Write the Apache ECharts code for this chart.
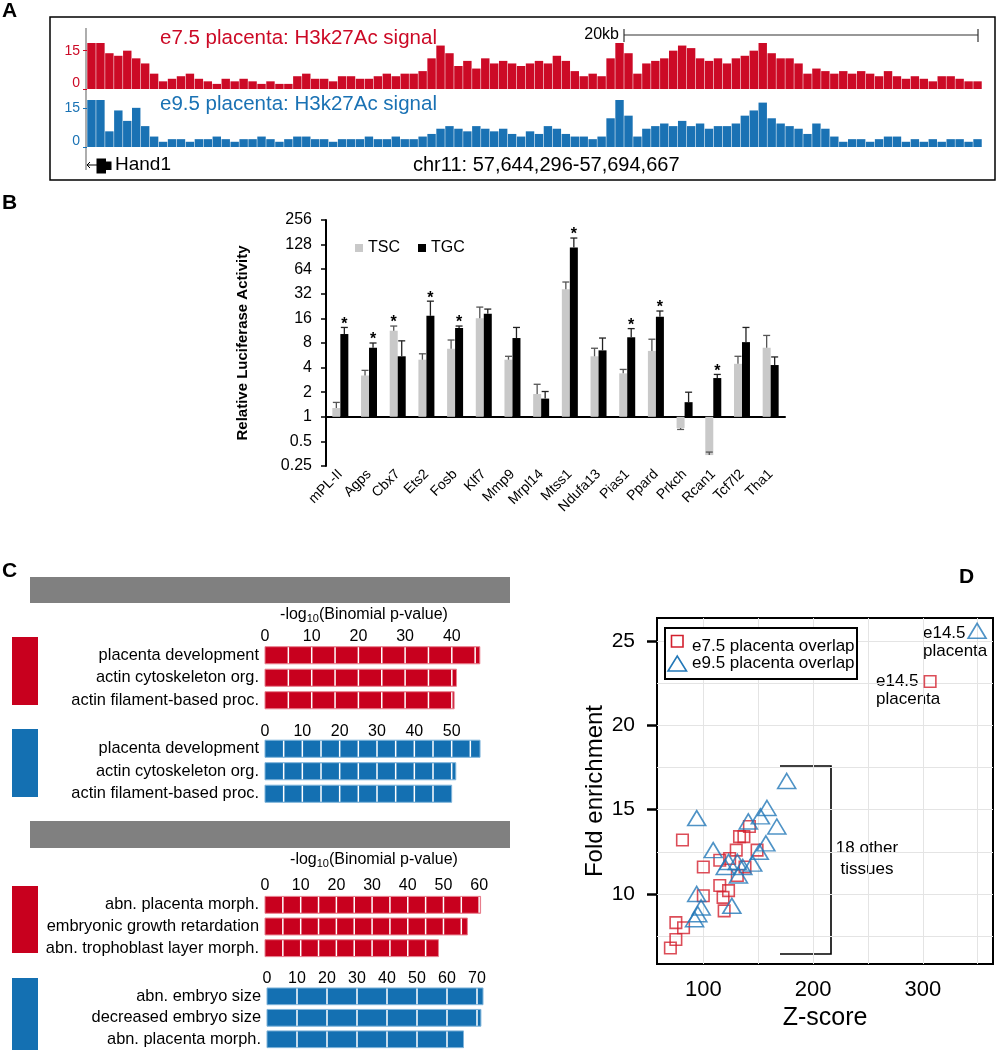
<!DOCTYPE html>
<html><head><meta charset="utf-8">
<script src="https://cdn.jsdelivr.net/npm/echarts@6/dist/echarts.min.js"></script>
<style>html,body{margin:0;padding:0;background:#fff;}#c{width:997px;height:1050px;}</style>
</head><body><div id="c"></div>
<script>
// ---------- Panel A: H3K27Ac signal tracks (binned) ----------
const e75Signal = [18,18,14,13,15,12,10,6,3,4, 5,6,4,3,2,4,3,4,3,2, 3,2,2,5,6,4,4,3,5,5, 4,4,5,6,5,6,6,7,12,17,
  14,9,11,8,12,10,11,10,9,10, 11,10,13,11,7,5,6,5,12,18, 14,6,10,11,12,15,17,16,12,11, 12,10,12,13,15,18,14,12,12,10,
  6,8,7,6,7,6,7,6,5,7, 5,4,5,4,3,5,5,4,3,3];
const e95Signal = [18,18,6,14,10,15,8,4,2,3, 3,2,3,3,4,3,2,3,3,4, 3,2,3,4,4,3,3,2,3,3, 3,4,3,3,4,3,3,4,5,7,
  8,7,6,8,7,6,7,5,4,6, 5,8,7,5,4,4,3,4,11,18, 12,4,7,8,9,8,10,8,9,7, 8,8,9,12,14,17,11,9,8,7,
  5,9,7,4,2,3,3,2,3,4, 4,2,3,2,3,2,3,3,2,3];
const trackTicks = [0, 15];
const trackMax = 18;

// ---------- Panel B: luciferase ----------
const genes = ['mPL-II','Agps','Cbx7','Ets2','Fosb','Klf7','Mmp9','Mrpl14','Mtss1','Ndufa13','Pias1','Ppard','Prkch','Rcan1','Tcf7l2','Tha1'];
const tscValues = [1.28, 3.2, 11.3, 5.0, 6.8, 16.1, 5.0, 1.9, 36.5, 5.5, 3.4, 6.4, 0.73, 0.34, 4.45, 7.0];
const tscErrTop = [1.5, 3.7, 12.9, 5.9, 8.7, 22, 5.5, 2.5, 44.6, 6.9, 3.8, 8.9, 0.70, 0.37, 5.5, 9.9];
const tgcValues = [10.3, 7.0, 5.5, 17.2, 12.2, 18.2, 9.2, 1.67, 118, 6.5, 9.4, 16.8, 1.51, 2.98, 8.2, 4.3];
const tgcErrTop = [12.4, 8.0, 8.5, 26, 12.9, 20.8, 12.4, 2.04, 154, 9.2, 12, 19.7, 2.0, 3.3, 12.4, 5.4];
const tscSig = [0,0,1,0,0,0,0,0,0,0,0,0,0,0,0,0];
const tgcSig = [1,1,0,1,1,0,0,0,1,0,1,1,0,1,0,0];
const luciferaseTicks = [0.25, 0.5, 1, 2, 4, 8, 16, 32, 64, 128, 256];

// ---------- Panel C: GREAT enrichment ----------
const goTerms = ['placenta development','actin cytoskeleton org.','actin filament-based proc.'];
const goE75 = [46, 41, 40.5];
const goE95 = [57.6, 51.1, 50.0];
const mpTermsE75 = ['abn. placenta morph.','embryonic growth retardation','abn. trophoblast layer morph.'];
const mpE75 = [60.4, 56.7, 48.6];
const mpTermsE95 = ['abn. embryo size','decreased embryo size','abn. placenta morph.'];
const mpE95 = [72, 71.3, 65.5];
const goE75Ticks = [0,10,20,30,40];
const goE95Ticks = [0,10,20,30,40,50];
const mpE75Ticks = [0,10,20,30,40,50,60];
const mpE95Ticks = [0,10,20,30,40,50,60,70];

// ---------- Panel D: tissue overlap ----------
const e75Z    = [81,100,133,137,142,130,149,115,124,138,131,115,123,100,118,119,75,82,75,70];
const e75Fold = [13.2,11.6,13.4,13.4,14.0,12.6,12.6,12.0,12.1,11.6,11.1,10.5,10.2,9.9,9.8,9.0,8.3,8.0,7.3,6.8];
const e95Z    = [176,94,158,152,141,167,157,151,109,145,123,131,120,136,132,94,126,98,95,92];
const e95Fold = [16.7,14.5,15.1,14.6,14.3,14.0,13.0,12.5,12.6,11.8,11.9,11.9,11.6,11.6,11.1,10.0,9.3,9.2,8.8,8.5];
const e75Placenta = [306.7, 22.6];
const e95Placenta = [349.5, 25.6];
const zTicks = [100, 200, 300];
const zMinorGrid = [150, 250, 350];
const foldTicks = [10, 15, 20, 25];
const foldMinorGrid = [7.5, 12.5, 17.5, 22.5];

// ---------- styles ----------
const F = "'Liberation Sans', Arial, Helvetica, sans-serif";
const RED_A = '#cc0a26', BLUE_A = '#1a72b4';
const RED_C = '#c8001e', BLUE_C = '#1470b2';
const RED_D = '#d3202e', BLUE_D = '#2378b8';

const chart = echarts.init(document.getElementById('c'), null, {width: 997, height: 1050});

function trackYAxis(grid, color) {
  return {gridIndex: grid, type: 'value', min: 0, max: trackMax,
    axisLine: {show: false}, splitLine: {show: false},
    axisTick: {show: true, customValues: trackTicks, length: 4, lineStyle: {color: color, width: 1}},
    axisLabel: {customValues: trackTicks, margin: 7, fontFamily: F,
      formatter: v => v === 0 ? '{z|0}' : '{f|' + v + '}',
      rich: {z: {color: color, fontSize: 14, fontFamily: F, padding: [0,0,12,0]}, f: {color: color, fontSize: 14, fontFamily: F}}}};
}
function catHidden(grid, n) {
  return {gridIndex: grid, type: 'category', data: Array.from({length: n}, (_, i) => i), show: false};
}

function segRender(fill, stroke, seg, ratio) {
  return function (params, api) {
    const v = api.value(0), c = api.value(1);
    const p0 = api.coord([0, c]), p1 = api.coord([v, c]);
    const h = api.size([0, 1])[1] * ratio;
    const ch = [{type: 'rect', shape: {x: p0[0], y: p0[1] - h / 2, width: p1[0] - p0[0], height: h},
      style: {fill: fill, stroke: stroke, lineWidth: 1}}];
    for (let k = seg; k < v - 0.3; k += seg) {
      const px = api.coord([k, c])[0];
      ch.push({type: 'line', shape: {x1: px, y1: p0[1] - h / 2 + 0.5, x2: px, y2: p0[1] + h / 2 - 0.5}, style: {stroke: '#fff', lineWidth: 1.5}});
    }
    return {type: 'group', children: ch};
  };
}
function errRender(sign, color) {
  return function (params, api) {
    const c = api.value(0), v = api.value(1), e = api.value(2), sig = api.value(3);
    const b = api.coord([c, v]), t = api.coord([c, e]);
    const x = b[0] + sign * 4;
    const ch = [
      {type: 'line', shape: {x1: x, y1: b[1], x2: x, y2: t[1]}, style: {stroke: color, lineWidth: 1.3}},
      {type: 'line', shape: {x1: x - 3.5, y1: t[1], x2: x + 3.5, y2: t[1]}, style: {stroke: color, lineWidth: 1.3}}
    ];
    if (sig) ch.push({type: 'text', x: x, y: t[1] - 3, style: {text: '*', fontSize: 16, fontWeight: 'bold', fontFamily: F, align: 'center', verticalAlign: 'middle', fill: '#000'}});
    return {type: 'group', children: ch};
  };
}
function cYAxis(grid, terms) {
  return {gridIndex: grid, type: 'category', data: terms, inverse: true,
    axisLine: {show: false}, axisTick: {show: false},
    axisLabel: {fontSize: 16.4, color: '#000', margin: 6, fontFamily: F}};
}
function cXAxis(grid, max, ticks, margin) {
  return {gridIndex: grid, type: 'value', position: 'top', min: 0, max: max,
    axisLine: {show: false}, axisTick: {show: false}, splitLine: {show: false},
    axisLabel: {customValues: ticks, fontSize: 16, color: '#000', margin: margin, fontFamily: F}};
}
function logTitle(x, y) {
  return {type: 'text', x: x, y: y, style: {text: '-log{s|10}(Binomial p-value)', fontSize: 16, fontFamily: F, fill: '#000',
    align: 'center', verticalAlign: 'middle', rich: {s: {fontSize: 11, fontFamily: F, padding: [8, 0, 0, 0]}}}};
}
function txt(x, y, s, size, color, align, extra) {
  return {type: 'text', x: x, y: y, style: Object.assign({text: s, fontSize: size, fontFamily: F, fill: color || '#000',
    align: align || 'left', verticalAlign: 'middle'}, extra || {})};
}

const log2 = Math.log2;
const option = {
  animation: false,
  backgroundColor: '#fff',
  textStyle: {fontFamily: F},
  grid: [
    {left: 87, top: 43, width: 895, height: 46},
    {left: 87, top: 100, width: 895, height: 47},
    {left: 326, top: 220, width: 459, height: 246},
    {left: 265, top: 644, width: 233.5, height: 67.5},
    {left: 265, top: 737.5, width: 224, height: 67.5},
    {left: 265, top: 894, width: 232, height: 65},
    {left: 267, top: 985.6, width: 225, height: 66.6},
    {left: 657, top: 618, width: 336, height: 346, show: true, borderColor: '#000', borderWidth: 2, backgroundColor: 'rgba(0,0,0,0)'}
  ],
  legend: [{
    data: ['TSC', 'TGC'], left: 350, top: 235, icon: 'rect', itemWidth: 8, itemHeight: 8, itemGap: 18,
    textStyle: {fontSize: 16, color: '#000', fontFamily: F}, selectedMode: false
  }],
  xAxis: [
    catHidden(0, e75Signal.length),
    catHidden(1, e95Signal.length),
    {gridIndex: 2, type: 'category', data: genes, position: 'bottom',
      axisLine: {onZero: true, lineStyle: {color: '#000', width: 2}},
      axisTick: {length: 4, lineStyle: {color: '#000', width: 1.5}}, axisLabel: {show: false}},
    {gridIndex: 2, type: 'category', data: genes, position: 'bottom',
      axisLine: {show: false, onZero: false}, axisTick: {show: false},
      axisLabel: {rotate: 45, fontSize: 14, margin: 6, interval: 0, color: '#000', fontFamily: F}},
    cXAxis(3, 50, goE75Ticks, -1),
    cXAxis(4, 60, goE95Ticks, -2),
    cXAxis(5, 65, mpE75Ticks, 0),
    cXAxis(6, 75, mpE95Ticks, -1),
    {gridIndex: 7, type: 'value', min: 57.8, max: 364,
      axisLine: {show: false}, axisTick: {show: false}, splitLine: {show: false},
      axisLabel: {customValues: zTicks, fontSize: 22, margin: 15, color: '#000', fontFamily: F},
      name: 'Z-score', nameLocation: 'middle', nameGap: 42, nameTextStyle: {fontSize: 25, color: '#000', fontFamily: F}}
  ],
  yAxis: [
    trackYAxis(0, RED_A),
    trackYAxis(1, BLUE_A),
    {gridIndex: 2, type: 'value', min: log2(luciferaseTicks[0]), max: log2(luciferaseTicks[luciferaseTicks.length - 1]), interval: 1,
      axisLine: {show: true, lineStyle: {color: '#000', width: 2}},
      axisTick: {show: true, length: 5, lineStyle: {color: '#000', width: 1.5}},
      splitLine: {show: false},
      axisLabel: {formatter: v => String(Math.pow(2, v)), fontSize: 16, color: '#000', margin: 14, fontFamily: F},
      name: 'Relative Luciferase Activity', nameLocation: 'middle', nameGap: 76,
      nameTextStyle: {fontSize: 15, fontWeight: 'bold', color: '#000', fontFamily: F}},
    cYAxis(3, goTerms),
    cYAxis(4, goTerms),
    cYAxis(5, mpTermsE75),
    cYAxis(6, mpTermsE95),
    {gridIndex: 7, type: 'value', min: 5.85, max: 26.36,
      axisLine: {show: false}, splitLine: {show: false},
      axisTick: {show: true, customValues: foldTicks, length: 10, lineStyle: {color: '#000', width: 2.5}},
      axisLabel: {customValues: foldTicks, fontSize: 21, margin: 22, color: '#000', fontFamily: F},
      name: 'Fold enrichment', nameLocation: 'middle', nameGap: 27, nameTextStyle: {fontSize: 24, color: '#000', fontFamily: F}}
  ],
  series: [
    {type: 'bar', xAxisIndex: 0, yAxisIndex: 0, data: e75Signal, barCategoryGap: '6%', itemStyle: {color: RED_A}, silent: true},
    {type: 'bar', xAxisIndex: 1, yAxisIndex: 1, data: e95Signal, barCategoryGap: '6%', itemStyle: {color: BLUE_A}, silent: true},
    {type: 'bar', name: 'TSC', xAxisIndex: 2, yAxisIndex: 2, data: tscValues.map(log2), barWidth: 8, barGap: '0%', itemStyle: {color: '#c9c9c9'}},
    {type: 'bar', name: 'TGC', xAxisIndex: 2, yAxisIndex: 2, data: tgcValues.map(log2), barWidth: 8, barGap: '0%', itemStyle: {color: '#000'}},
    {type: 'custom', xAxisIndex: 2, yAxisIndex: 2, z: 5, renderItem: errRender(-1, '#555'),
      data: genes.map((g, i) => [i, log2(tscValues[i]), log2(tscErrTop[i]), tscSig[i]])},
    {type: 'custom', xAxisIndex: 2, yAxisIndex: 2, z: 5, renderItem: errRender(1, '#222'),
      data: genes.map((g, i) => [i, log2(tgcValues[i]), log2(tgcErrTop[i]), tgcSig[i]])},
    {type: 'custom', xAxisIndex: 4, yAxisIndex: 3, renderItem: segRender(RED_C, '#e8808f', 5, 0.76), data: goE75.map((v, i) => [v, i]), encode: {x: 0, y: 1}},
    {type: 'custom', xAxisIndex: 5, yAxisIndex: 4, renderItem: segRender(BLUE_C, '#7fb4da', 5, 0.76), data: goE95.map((v, i) => [v, i]), encode: {x: 0, y: 1}},
    {type: 'custom', xAxisIndex: 6, yAxisIndex: 5, renderItem: segRender(RED_C, '#e8808f', 5, 0.78), data: mpE75.map((v, i) => [v, i]), encode: {x: 0, y: 1}},
    {type: 'custom', xAxisIndex: 7, yAxisIndex: 6, renderItem: segRender(BLUE_C, '#7fb4da', 10, 0.78), data: mpE95.map((v, i) => [v, i]), encode: {x: 0, y: 1}},
    {type: 'scatter', xAxisIndex: 8, yAxisIndex: 7, data: [], silent: true,
      markLine: {silent: true, z: 1, symbol: ['none', 'none'], label: {show: false}, animation: false,
        lineStyle: {color: '#e4e4e4', width: 1, type: 'solid'},
        data: zTicks.concat(zMinorGrid).map(v => ({xAxis: v})).concat(foldTicks.concat(foldMinorGrid).map(v => ({yAxis: v})))}},
    {type: 'scatter', name: 'e7.5 placenta overlap', xAxisIndex: 8, yAxisIndex: 7, z: 3, symbol: 'rect', symbolSize: 11.5,
      itemStyle: {color: 'rgba(255,255,255,0)', borderColor: RED_D, borderWidth: 1.6},
      data: e75Z.map((z, i) => [z, e75Fold[i]]).concat([e75Placenta])},
    {type: 'scatter', name: 'e9.5 placenta overlap', xAxisIndex: 8, yAxisIndex: 7, z: 4, symbol: 'triangle', symbolSize: [18, 15],
      itemStyle: {color: 'rgba(255,255,255,0)', borderColor: BLUE_D, borderWidth: 1.6},
      data: e95Z.map((z, i) => [z, e95Fold[i]]).concat([e95Placenta])}
  ],
  graphic: [
    // panel letters
    txt(2, 11, 'A', 21, '#000', 'left', {fontWeight: 'bold'}),
    txt(2, 203, 'B', 21, '#000', 'left', {fontWeight: 'bold'}),
    txt(2, 571, 'C', 21, '#000', 'left', {fontWeight: 'bold'}),
    txt(959, 577, 'D', 21, '#000', 'left', {fontWeight: 'bold'}),
    // panel A frame
    {type: 'rect', shape: {x: 50, y: 17, width: 945, height: 163}, style: {fill: 'none', stroke: '#000', lineWidth: 1.5}},
    {type: 'line', shape: {x1: 86, y1: 28, x2: 86, y2: 170}, style: {stroke: '#777', lineWidth: 1.2}},
    txt(160, 38, 'e7.5 placenta: H3k27Ac signal', 20.5, RED_A),
    txt(160, 104, 'e9.5 placenta: H3k27Ac signal', 20.5, BLUE_A),
    txt(619, 35, '20kb', 16, '#000', 'right'),
    {type: 'polyline', shape: {points: [[624, 29], [624, 42]]}, style: {stroke: '#333', lineWidth: 1.2}},
    {type: 'polyline', shape: {points: [[624, 35], [978, 35]]}, style: {stroke: '#333', lineWidth: 1.2}},
    {type: 'polyline', shape: {points: [[978, 29], [978, 42]]}, style: {stroke: '#333', lineWidth: 1.2}},
    {type: 'polyline', shape: {points: [[90, 162], [87, 165], [90, 168]]}, style: {stroke: '#000', lineWidth: 1, fill: 'none'}},
    {type: 'line', shape: {x1: 87, y1: 165, x2: 97, y2: 165}, style: {stroke: '#000', lineWidth: 1}},
    {type: 'rect', shape: {x: 96.5, y: 158.5, width: 9.5, height: 15}, style: {fill: '#000'}},
    {type: 'rect', shape: {x: 106, y: 161.5, width: 5.5, height: 8.5}, style: {fill: '#000'}},
    txt(115, 165, 'Hand1', 19),
    txt(413, 165, 'chr11: 57,644,296-57,694,667', 20),
    // panel C decorations
    {type: 'rect', shape: {x: 30, y: 577, width: 480, height: 26}, style: {fill: '#808080'}},
    {type: 'rect', shape: {x: 30, y: 821, width: 480, height: 27}, style: {fill: '#808080'}},
    {type: 'rect', shape: {x: 12, y: 637, width: 26, height: 68}, style: {fill: RED_C}},
    {type: 'rect', shape: {x: 12, y: 729, width: 26, height: 68}, style: {fill: BLUE_C}},
    {type: 'rect', shape: {x: 12, y: 886, width: 26, height: 67}, style: {fill: RED_C}},
    {type: 'rect', shape: {x: 12, y: 978, width: 26, height: 72}, style: {fill: BLUE_C}},
    logTitle(364, 615),
    logTitle(374, 860),
    // panel D legend
    {type: 'rect', shape: {x: 665, y: 628, width: 192, height: 51}, style: {fill: '#fff', stroke: '#000', lineWidth: 2}, z: 10},
    {type: 'rect', shape: {x: 671.5, y: 635.5, width: 11.5, height: 11.5}, style: {fill: 'none', stroke: RED_D, lineWidth: 1.6}, z: 11},
    {type: 'polygon', shape: {points: [[668, 671], [686.5, 671], [677.25, 656]]}, style: {fill: 'none', stroke: BLUE_D, lineWidth: 1.6}, z: 11},
    Object.assign(txt(692, 646, 'e7.5 placenta overlap', 17), {z: 11}),
    Object.assign(txt(692, 663, 'e9.5 placenta overlap', 17), {z: 11}),
    // panel D annotations
    txt(923, 633, 'e14.5', 17), txt(923, 651, 'placenta', 17),
    txt(876, 681, 'e14.5', 17), txt(876, 699, 'placenta', 17),
    {type: 'polyline', shape: {points: [[780, 766], [831, 766], [831, 954], [780, 954]]}, style: {stroke: '#000', lineWidth: 1.6, fill: 'none'}},
    txt(867, 848, '18 other', 17, '#000', 'center'),
    txt(867, 869, 'tissues', 17, '#000', 'center')
  ]
};
chart.setOption(option);
</script></body></html>
